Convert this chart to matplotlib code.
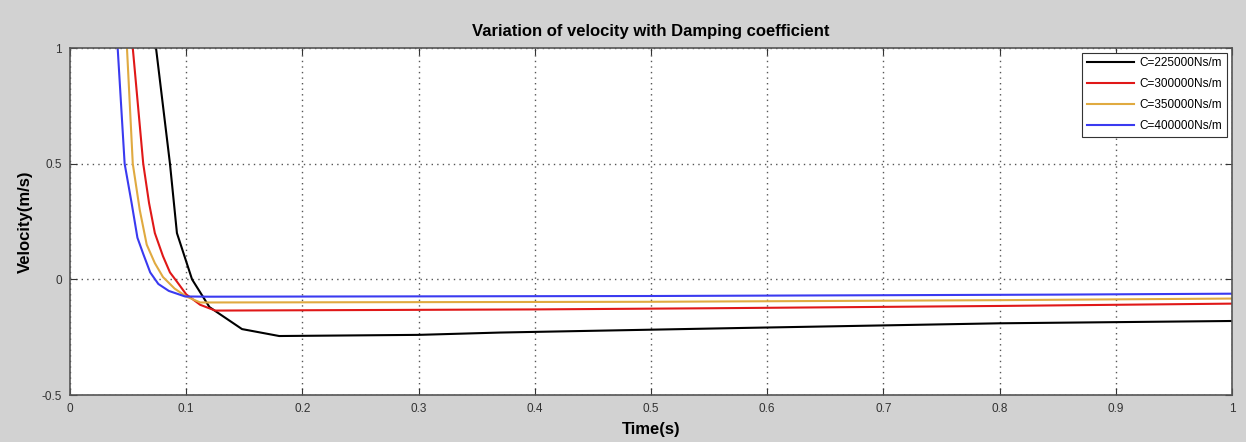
import numpy as np
import matplotlib.pyplot as plt

plt.rcParams['font.family'] = ['Liberation Sans', 'DejaVu Sans']

# values (time in s, velocity in m/s)
t_225 = [0.074, 0.086, 0.092, 0.105, 0.120, 0.148, 0.180, 0.30, 0.37, 0.58, 0.80, 1.0]
v_225 = [1.0, 0.5, 0.2, 0.0, -0.12, -0.215, -0.245, -0.24, -0.23, -0.21, -0.19, -0.18]

t_300 = [0.054, 0.063, 0.068, 0.073, 0.080, 0.086, 0.092, 0.100, 0.112, 0.125, 0.40, 0.55, 0.80, 1.0]
v_300 = [1.0, 0.5, 0.33, 0.2, 0.1, 0.03, -0.01, -0.065, -0.11, -0.135, -0.13, -0.125, -0.115, -0.105]

t_350 = [0.049, 0.054, 0.060, 0.066, 0.073, 0.080, 0.090, 0.100, 0.112, 0.50, 0.80, 1.0]
v_350 = [1.0, 0.5, 0.3, 0.15, 0.07, 0.01, -0.04, -0.074, -0.10, -0.097, -0.09, -0.083]

t_400 = [0.041, 0.047, 0.053, 0.058, 0.063, 0.069, 0.076, 0.085, 0.099, 0.12, 0.50, 0.85, 1.0]
v_400 = [1.0, 0.5, 0.33, 0.18, 0.11, 0.03, -0.02, -0.05, -0.074, -0.075, -0.072, -0.066, -0.062]

labels = ['C=225000Ns/m', 'C=300000Ns/m', 'C=350000Ns/m', 'C=400000Ns/m']
colors = ['#000000', '#e01818', '#e0aa40', '#3a3af0']

fig = plt.figure(figsize=(12.46, 4.42), dpi=100, facecolor='#d2d2d2')
ax = fig.add_axes([0.0562, 0.1063, 0.9326, 0.7851])

for t, v, lab, c in zip([t_225, t_300, t_350, t_400], [v_225, v_300, v_350, v_400], labels, colors):
    ax.plot(t, v, color=c, lw=1.5, label=lab)

ax.set_xlim(0, 1)
ax.set_ylim(-0.5, 1)
ax.set_xticks(np.arange(0, 1.01, 0.1))
ax.set_xticklabels(['0', '0.1', '0.2', '0.3', '0.4', '0.5', '0.6', '0.7', '0.8', '0.9', '1'])
ax.set_yticks([-0.5, 0, 0.5, 1])
ax.set_yticklabels(['-0.5', '0', '0.5', '1'])
ax.tick_params(direction='in', labelsize=8.5, colors='#333333', length=5, top=True, right=True, pad=6)
ax.grid(True, linestyle=(0, (1, 3)), color='#555555', lw=1)
for s in ax.spines.values():
    s.set_color('#555555')
    s.set_linewidth(1.2)

ax.set_title('Variation of velocity with Damping coefficient', fontsize=12, fontweight='bold', pad=9)
ax.set_xlabel('Time(s)', fontsize=12, fontweight='bold', labelpad=5)
ax.set_ylabel('Velocity(m/s)', fontsize=12, fontweight='bold', labelpad=6)

leg = ax.legend(loc='upper right', fontsize=8.5, fancybox=False, framealpha=1,
                edgecolor='#333333', handlelength=4.0, borderaxespad=0.4, labelspacing=0.75,
                handletextpad=0.5)
leg.get_frame().set_linewidth(0.8)

plt.savefig('out.png', facecolor=fig.get_facecolor())
